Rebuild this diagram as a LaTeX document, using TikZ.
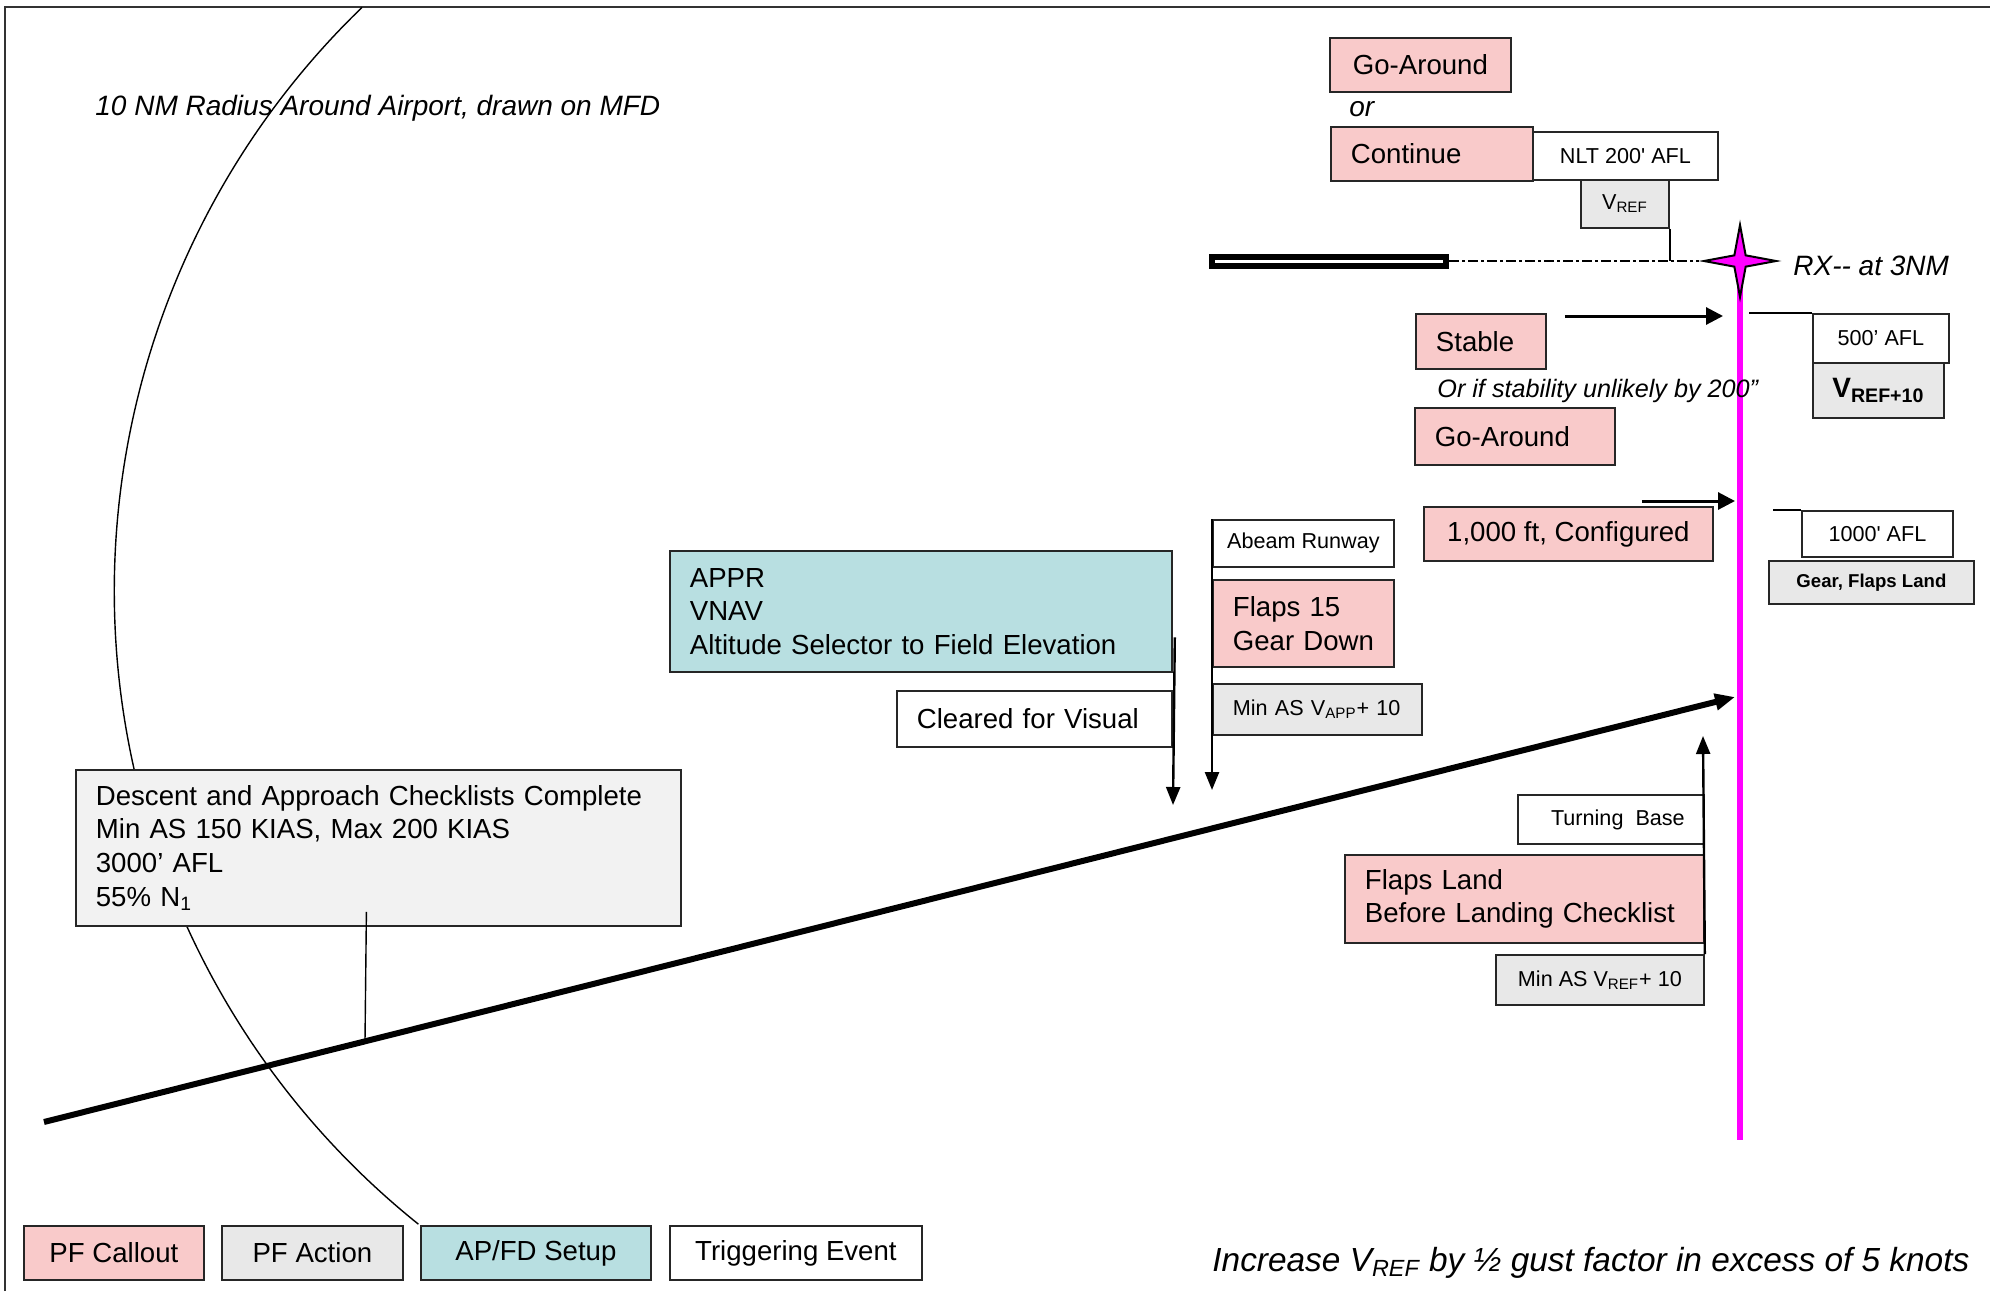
\documentclass[tikz,border=0pt]{standalone}
\usepackage{fontspec}
\setmainfont{Liberation Sans}
\usetikzlibrary{shapes.geometric,arrows.meta}

\definecolor{calloutpink}{HTML}{F9CACA}
\definecolor{actiongray}{HTML}{E8E8E8}
\definecolor{setupteal}{HTML}{B8DFE1}
\definecolor{palegray}{HTML}{F2F2F2}
\definecolor{rxmagenta}{RGB}{255,0,255}

\begin{document}
\begin{tikzpicture}[x=0.5pt,y=0.5pt,
  box/.style={draw=black!85,line width=0.9pt,inner sep=0pt,anchor=north west,font=\fontsize{13.8}{16.8}\selectfont},
  callout/.style={box,fill=calloutpink},
  action/.style={box,fill=actiongray},
  setup/.style={box,fill=setupteal},
  event/.style={box,fill=white},
  palebox/.style={box,fill=palegray},
  small/.style={font=\fontsize{10.8}{13}\selectfont},
  lft/.style={text width=#1,align=left,inner xsep=10pt},
  note/.style={inner sep=0pt,anchor=west,font=\fontsize{14}{16.8}\selectfont\itshape},
  runway/.style={draw,line width=3pt,fill=white,minimum width=117pt,minimum height=4.5pt,inner sep=0pt},
  rxstar/.style={star,star points=4,star point ratio=4.5,minimum size=36pt,inner sep=0pt,fill=rxmagenta,draw=black,line width=1pt},
  flow/.style={line width=1.2pt,-{Triangle[length=9pt,width=7pt]}},
  bigflow/.style={line width=1.5pt,-{Triangle[length=8.5pt,width=8.5pt]}}
]
\useasboundingbox (0,0) rectangle (1990,-1291);
\draw[black!80,line width=0.8pt] (5,-1291) -- (5,-7) -- (1990,-7);

% 10 NM circle
\draw[line width=0.7pt] (925.6,-591) ++(134:811.3) arc[start angle=134,end angle=231.3,radius=811.3];
\node[note] (radius) at (95,-108) {10 NM Radius Around Airport, drawn on MFD};

\coordinate (rxc) at (1740,-261);
\coordinate (magend) at (1740,-1140);
\draw[rxmagenta,line width=3.2pt] (rxc) -- (magend);

% glide path
\coordinate (glidestart) at (44,-1122);
\coordinate (glideend) at (1735,-697);
\draw[line width=3pt,-{Triangle[length=10pt,width=8pt]}] (glidestart) -- (glideend);

\node[callout,minimum width=90.5pt,minimum height=27pt] (goaround) at (1329,-37) {Go-Around};
\node[note] (or) at (1349,-109) {or};
\node[callout,lft=81pt,minimum height=27pt] (continue) at (1330,-126) {Continue};
\node[event,small,minimum width=92.5pt,minimum height=24pt] (nlt) at (1532,-131) {NLT 200\textquotesingle{} AFL};
\node[action,small,minimum width=44pt,minimum height=24pt] (vref) at (1580,-179) {V\textsubscript{REF}};

\node[runway] (rwy) at (1329,-261) {};
\node[rxstar] (rx) at (rxc) {};
\node[note] (rxlabel) at (1793,-266) {RX-{}- at 3NM};

\node[callout,lft=45pt,minimum height=27.5pt] (stable) at (1415,-313) {Stable};
\node[note,font=\fontsize{12.6}{15}\selectfont\itshape] (unlikely) at (1437,-391) {Or if stability unlikely by 200”};
\node[callout,lft=80pt,minimum height=28.5pt] (goaround2) at (1414,-407) {Go-Around};
\node[event,small,minimum width=68pt,minimum height=24.5pt] (afl500) at (1812,-313) {500’ AFL};
\node[action,minimum width=65.5pt,minimum height=27.5pt,font=\fontsize{14}{16}\selectfont\bfseries] (vref10) at (1812,-362) {V\textsubscript{REF+10}};

\node[callout,minimum width=144.5pt,minimum height=27pt] (configured) at (1423,-506) {1,000 ft, Configured};
\node[event,small,minimum width=75.5pt,minimum height=23pt] (afl1000) at (1801,-510) {1000\textquotesingle{} AFL};
\node[action,minimum width=102.5pt,minimum height=21.5pt,font=\fontsize{9.3}{11}\selectfont\bfseries] (gear) at (1768,-560) {Gear, Flaps Land};

\node[event,small,minimum width=90.5pt,minimum height=23.5pt] (abeam) at (1212,-519) {Abeam Runway};
\node[callout,lft=70.5pt,minimum height=43.5pt] (flaps15) at (1212,-579) {\mbox{Flaps 15}\\\mbox{Gear Down}};
\node[action,small,lft=84.5pt,minimum height=25.5pt] (vapp) at (1212,-683) {\mbox{Min AS V\textsubscript{APP}+ 10}};

\node[setup,lft=231pt,minimum height=60.5pt] (appr) at (669,-550) {APPR\\VNAV\\\mbox{Altitude Selector to Field Elevation}};
\node[event,lft=117.5pt,minimum height=28pt] (visual) at (896,-690) {\mbox{Cleared for Visual}};

\node[palebox,lft=282.5pt,minimum height=78pt] (descent) at (75,-769) {\mbox{Descent and Approach Checklists Complete}\\Min AS 150 KIAS, Max 200 KIAS\\3000’ AFL\\55\% N\textsubscript{1}};

\node[event,small,minimum width=93pt,minimum height=24.5pt] (turning) at (1517,-794) {\hspace{7pt}Turning\ \ Base};
\node[callout,lft=159.5pt,minimum height=44pt] (flapsland) at (1344,-854) {Flaps Land\\\mbox{Before Landing Checklist}};
\node[action,small,minimum width=104pt,minimum height=25pt] (vrefmin) at (1495,-954) {Min AS V\textsubscript{REF}+ 10};

% legend
\node[callout,minimum width=90pt,minimum height=27pt] (keycallout) at (23,-1225) {PF Callout};
\node[action,minimum width=90.5pt,minimum height=27pt] (keyaction) at (221,-1225) {PF Action};
\node[setup,minimum width=115pt,minimum height=27pt] (keysetup) at (420,-1225) {AP/FD Setup};
\node[event,minimum width=126pt,minimum height=27pt] (keyevent) at (669,-1225) {Triggering Event};
\node[note,font=\fontsize{16.7}{20}\selectfont\itshape] (gust) at (1212,-1263) {Increase V\textsubscript{REF} by ½ gust factor in excess of 5 knots};

% connectors
\coordinate (stablein) at (1723,-316);
\coordinate (confin) at (1735,-501);
\coordinate (abeamend) at (1212,-790);
\coordinate (apprend) at (1173,-805);
\coordinate (turnend) at (1703,-736);
\coordinate (descfoot) at (365,-1041);
\coordinate (afl500line) at (1749,-313);
\coordinate (afl1000line) at (1773,-510);

\draw[line width=1.4pt,dash pattern=on 5pt off 1.5pt on 1.5pt off 1.5pt] (rwy.east) -- (rx.west);
\draw[line width=0.7pt] (vref.south east) -- (vref.south east |- rxc);
\draw[bigflow] ([xshift=9pt,yshift=-1.5pt]stable.north east) -- (stablein);
\draw[line width=0.7pt] (afl500line) -- (afl500.north west);
\draw[bigflow] ([xshift=-36pt,yshift=2.5pt]configured.north east) -- (confin);
\draw[line width=0.7pt] (afl1000line) -- (afl1000.north west);
\draw[flow] (abeam.north west) -- (abeamend);
\draw[flow] ([xshift=1pt,yshift=-13pt]appr.east) -- (apprend);
\draw[flow] (vrefmin.north east) -- (turnend);
\draw[line width=0.7pt] ([xshift=-6pt,yshift=7.5pt]descent.south) -- (descfoot);
\end{tikzpicture}
\end{document}
